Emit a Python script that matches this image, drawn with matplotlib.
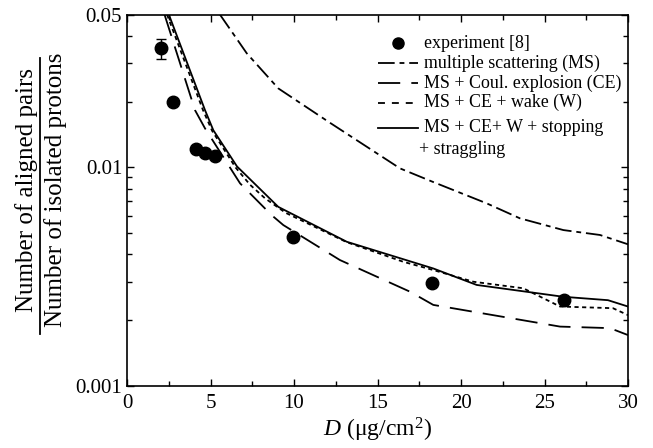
import matplotlib
matplotlib.use("Agg")
import matplotlib.pyplot as plt
from matplotlib.lines import Line2D
import numpy as np

plt.rcParams['font.family'] = ['Liberation Serif', 'DejaVu Serif']
plt.rcParams['mathtext.fontset'] = 'custom'
plt.rcParams['mathtext.rm'] = 'Liberation Serif'
plt.rcParams['mathtext.it'] = 'Liberation Serif:italic'
plt.rcParams['lines.scale_dashes'] = False

# ---------------- data ----------------
exp_D = [2.04, 2.73, 4.11, 4.69, 5.27, 9.96, 18.26, 26.19]
exp_R = [0.0351, 0.0200, 0.0121, 0.0116, 0.0113, 0.00480, 0.00297, 0.00247]
exp_err_lo = [0.0038, 0, 0, 0, 0, 0, 0, 0]
exp_err_hi = [0.0037, 0, 0, 0, 0, 0, 0, 0]

ms_D = [5.57, 7.17, 9.06, 12.16, 16.35, 18.3, 21.54, 23.53, 26.13, 28.32, 30.0]
ms_R = [0.050, 0.0333, 0.0230, 0.0160, 0.0099, 0.0086, 0.00685, 0.00585, 0.00517, 0.00491, 0.00445]

ce_D = [2.25, 4.07, 4.67, 6.77, 8.66, 9.36, 12.75, 16.95, 18.34, 25.93, 28.92, 30.0]
ce_R = [0.050, 0.0183, 0.0151, 0.00846, 0.00605, 0.00545, 0.00377, 0.0027, 0.00235, 0.00187, 0.00184, 0.00171]

w_D = [2.40, 4.55, 5.10, 6.50, 7.37, 8.26, 9.50, 13.16, 16.55, 18.30, 20.74, 23.73, 25.93, 29.10, 30.0]
w_R = [0.050, 0.0183, 0.0147, 0.0100, 0.00833, 0.00723, 0.0062, 0.00455, 0.0037, 0.0034, 0.0030, 0.0028, 0.00231, 0.00227, 0.00211]

full_D = [2.51, 4.67, 5.17, 6.59, 9.06, 13.16, 18.34, 20.94, 26.13, 28.8, 30.0]
full_R = [0.050, 0.0183, 0.0148, 0.0101, 0.0066, 0.00457, 0.00345, 0.0029, 0.00256, 0.00247, 0.00231]

labels = ["experiment [8]", "multiple scattering (MS)", "MS + Coul. explosion (CE)",
          "MS + CE + wake (W)", "MS + CE+ W + stopping", "+ straggling"]

x_ticks = [0, 5, 10, 15, 20, 25, 30]
y_ticks = [0.001, 0.01, 0.05]
y_ticklabels = ["0.001", "0.01", "0.05"]

# ---------------- figure ----------------
fig = plt.figure(figsize=(6.53, 4.48), dpi=100)
ax = fig.add_axes([127/653, 62/448, 501/653, 371.3/448])

lw = 1.3
ms_dash = (12, 3.5, 3.5, 3.5)
ce_dash = (16, 8)
w_dash = (3, 2.5)

ax.plot(ms_D, ms_R, color='black', lw=lw, dashes=ms_dash)
ax.plot(ce_D, ce_R, color='black', lw=lw, dashes=ce_dash)
ax.plot(w_D, w_R, color='black', lw=lw, dashes=w_dash)
ax.plot(full_D, full_R, color='black', lw=lw)
ax.errorbar(exp_D[:1], exp_R[:1], yerr=[exp_err_lo[:1], exp_err_hi[:1]], fmt='none',
            ecolor='black', elinewidth=1.0, capsize=3.3, capthick=1.0)
ax.plot(exp_D, exp_R, 'o', color='black', ms=9, zorder=5)

ax.set_yscale('log')
ax.set_xlim(0, 30)
ax.set_ylim(0.001, 0.05)
ax.set_xticks(x_ticks)
ax.set_xticklabels([str(t) for t in x_ticks])
ax.set_xticks(np.arange(2.5, 30, 5), minor=True)
ax.set_yticks(y_ticks)
ax.set_yticklabels(y_ticklabels)
minor_y = [m * 10.0**e for e in (-3, -2) for m in range(2, 10) if m * 10.0**e < 0.05]
ax.set_yticks(minor_y, minor=True)
ax.yaxis.set_minor_formatter(matplotlib.ticker.NullFormatter())

ax.tick_params(which='both', direction='in', top=True, right=True, labelsize=15, width=1.0)
ax.tick_params(which='major', length=5)
ax.tick_params(which='minor', length=3.5)
ax.tick_params(axis='x', pad=6)
for s in ax.spines.values():
    s.set_linewidth(1.2)

ax.set_xlabel(r'$\mathit{D}$ (μg/cm$^2$)', fontsize=17, labelpad=2)

# fraction-style y label
fig.text(27/653, 1 - 190/448, "Number of aligned pairs", rotation=90,
         ha='center', va='center', fontsize=18)
fig.text(56/653, 1 - 190/448, "Number of isolated protons", rotation=90,
         ha='center', va='center', fontsize=18)
fig.add_artist(Line2D([40/653, 40/653], [1 - 58/448, 1 - 334/448], color='black', lw=1.3,
                      transform=fig.transFigure))

# manual legend
hx0, hx1, tx = 0.501, 0.581, 0.593
rows = [0.923, 0.869, 0.815, 0.7635, 0.696, 0.636]
ax.plot([(hx0 + hx1) / 2], [rows[0]], 'o', color='black', ms=8, transform=ax.transAxes)
ax.plot([hx0, hx1], [rows[1]] * 2, color='black', lw=lw, dashes=ms_dash, transform=ax.transAxes)
ax.plot([hx0, hx1], [rows[2]] * 2, color='black', lw=lw, dashes=ce_dash, transform=ax.transAxes)
ax.plot([hx0, hx1], [rows[3]] * 2, color='black', lw=lw, dashes=(5, 5), transform=ax.transAxes)
ax.plot([hx0, hx1], [rows[4]] * 2, color='black', lw=lw, transform=ax.transAxes)
for i, lab in enumerate(labels):
    x = tx if i < 5 else tx - 0.01
    ax.text(x, rows[i], lab, transform=ax.transAxes, ha='left', va='center', fontsize=12.9)

fig.savefig("out.png", dpi=100)
